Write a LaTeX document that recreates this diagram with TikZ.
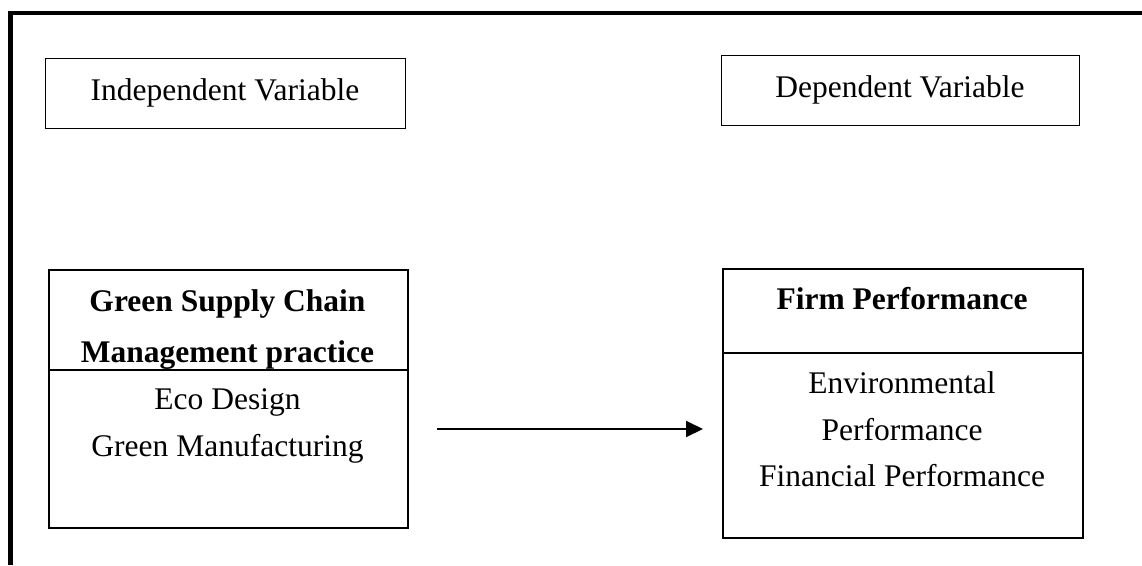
\documentclass[tikz,border=0pt]{standalone}
\usepackage{fontspec}
\setmainfont{Liberation Serif}
\usetikzlibrary{arrows.meta}
\begin{document}
\begin{tikzpicture}[x=1pt,y=-1pt,
  frameline/.style={line width=4.5pt},
  thinbox/.style={draw, line width=1.2pt, inner sep=0pt, anchor=north west},
  bigbox/.style={draw, line width=1.8pt, inner sep=0pt, anchor=north west},
  txt/.style={anchor=base, inner sep=0pt, font=\fontsize{31.5}{36}\selectfont},
  btxt/.style={txt, font=\fontsize{31.5}{36}\selectfont\bfseries},
  arrowline/.style={line width=2pt, -{Triangle[length=17pt,width=16pt]}}]
\useasboundingbox (0,0) rectangle (1142,565);
% outer frame (top and left only)
\coordinate (fa) at (10.5,565);
\coordinate (fb) at (10.5,13);
\coordinate (fc) at (1142,13);
\draw[frameline] (fa) -- (fb) -- (fc);
% header boxes
\node[thinbox, minimum width=360pt, minimum height=70pt] (iv) at (45,58) {};
\node[txt] (ivt) at (225,100) {Independent Variable};
\node[thinbox, minimum width=358pt, minimum height=70pt] (dv) at (721,55) {};
\node[txt] (dvt) at (900,97) {Dependent Variable};
% left big box
\node[bigbox, minimum width=359pt, minimum height=258pt] (gs) at (48,269) {};
\coordinate (gsl) at (48,370);
\coordinate (gsr) at (407,370);
\begin{scope}
\clip (48,269) rectangle (407,370);
\node[btxt] (gst1) at (227.5,311) {Green Supply Chain};
\node[btxt] (gst2) at (227.5,362) {Management practice};
\end{scope}
\draw[line width=1.8pt] (gsl) -- (gsr);
\node[txt] (gse) at (227.5,409) {Eco Design};
\node[txt] (gsm) at (227.5,456) {Green Manufacturing};
% right big box
\node[bigbox, minimum width=360pt, minimum height=269pt] (fp) at (722,268) {};
\coordinate (fpl) at (722,353);
\coordinate (fpr) at (1082,353);
\draw[line width=1.8pt] (fpl) -- (fpr);
\node[btxt] (fpt) at (902,309) {Firm Performance};
\node[txt] (fp1) at (902,393) {Environmental};
\node[txt] (fp2) at (902,440) {Performance};
\node[txt] (fp3) at (902,486) {Financial Performance};
% arrow
\coordinate (a1) at (437,429);
\coordinate (a2) at (703,429);
\draw[arrowline] (a1) -- (a2);
\end{tikzpicture}
\end{document}
